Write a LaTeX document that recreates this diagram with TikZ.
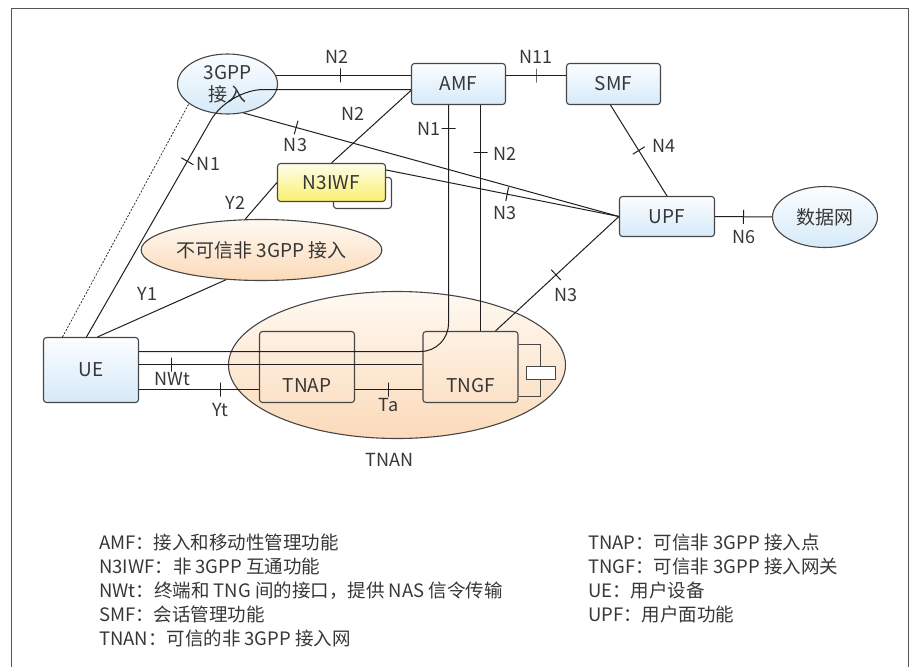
\documentclass[tikz,border=0pt]{standalone}
\usepackage{fontspec}
\setmainfont{Noto Sans CJK SC}
\usetikzlibrary{arrows.meta,positioning,calc,shapes.geometric}
\definecolor{linegray}{RGB}{30,30,30}
\definecolor{boxgray}{RGB}{70,70,70}
\definecolor{framegray}{RGB}{85,85,85}
\definecolor{textgray}{RGB}{55,55,55}
\definecolor{bluetop}{RGB}{251,253,255}
\definecolor{bluebot}{RGB}{214,234,249}
\definecolor{yeltop}{RGB}{255,253,235}
\definecolor{yelbot}{RGB}{250,239,110}
\definecolor{orgtop}{RGB}{255,249,242}
\definecolor{orgbot}{RGB}{251,218,185}

\begin{document}
\begin{tikzpicture}[x=1pt,y=-1pt,line width=1pt,draw=linegray,text=textgray,
  font=\fontsize{18pt}{22pt}\selectfont,
  nf/.style={draw=boxgray,line width=1.1pt,rounded corners=3pt,top color=bluetop,bottom color=bluebot,
    inner sep=0pt,font=\fontsize{19pt}{23pt}\selectfont},
  cloud/.style={ellipse,draw=boxgray,line width=1.1pt,inner sep=0pt,font=\fontsize{19pt}{23pt}\selectfont},
  tnbox/.style={draw=boxgray,line width=1.1pt,rounded corners=3pt,minimum width=95pt,minimum height=71pt,
    inner sep=0pt,text height=50pt,text depth=0pt,font=\fontsize{19pt}{23pt}\selectfont},
  tickmark/.style={draw=linegray,sloped,inner sep=0pt,minimum width=0pt,minimum height=14pt},
  lbl/.style={inner sep=0pt},
  legend/.style={anchor=west,inner sep=0pt,font=\fontsize{18.5pt}{22pt}\selectfont}]
  \useasboundingbox (-0.5,-0.5) rectangle (913.5,666.5);
  \draw[framegray,line width=1.2pt] (11,667) |- (908,8) -- (908,667);

  % access network ellipse below everything
  \node[cloud,top color=orgtop,bottom color=orgbot,minimum width=337pt,minimum height=147pt] (tnan) at (396.5,364.5) {};
  \node[lbl] (tnanl) at (389,459) {TNAN};

  % core functions
  \node[cloud,top color=bluetop,bottom color=bluebot,minimum width=100pt,minimum height=60pt,align=center,
    font=\fontsize{19pt}{22pt}\selectfont] (gpp) at (227,83.5) {3GPP\\接入};
  \node[nf,minimum width=94pt,minimum height=41pt] (amf) at (458,83.5) {AMF};
  \node[nf,minimum width=94pt,minimum height=41pt] (smf) at (613,83.5) {SMF};
  \node[nf,minimum width=95pt,minimum height=40pt] (upf) at (666.5,216) {UPF};
  \node[cloud,top color=bluetop,bottom color=bluebot,minimum width=105pt,minimum height=61pt] (dn) at (824.5,216.5) {数据网};
  \node[draw=boxgray,line width=1.1pt,rounded corners=3pt,fill=white,minimum width=58pt,minimum height=31pt] (n3back) at (362,192.5) {};
  \node[nf,top color=yeltop,bottom color=yelbot,minimum width=108pt,minimum height=38pt] (n3iwf) at (331,182) {N3IWF};
  \node[cloud,top color=orgtop,bottom color=orgbot,minimum width=206pt,minimum height=61pt] (untr) at (261,249.5) {不可信非 3GPP 接入};
  \node[nf,minimum width=95pt,minimum height=65pt] (ue) at (90.5,369.5) {UE};
  \node[tnbox] (tnap) at (306.5,366.5) {TNAP};
  \node[tnbox] (tngf) at (470,366.5) {TNGF};
  \draw[boxgray,line width=1.1pt] ([yshift=22.5pt]tngf.east) -| (540,396) -- (540,396 -| tngf.east);
  \node[draw=boxgray,line width=1.1pt,fill=white,minimum width=29pt,minimum height=13pt,inner sep=0pt] (tngfport) at (540.5,372.5) {};

  % N2 / N11 on top
  \draw (gpp.10) -- node[tickmark,pos=.48] (tN2a) {} (gpp.10 -| amf.west);
  \node[lbl] (lN2a) at (336,56) {N2};
  \draw ([yshift=8.5pt]amf.east) -- node[tickmark] (tN11) {} ([yshift=8.5pt]smf.west);
  \node[lbl] (lN11) at (535,56) {N11};
  \draw (n3iwf.north) -- ([yshift=-6.5pt]amf.west);
  \node[lbl] (lN2b) at (352,113) {N2};

  % N1 from UE over 3GPP access
  \draw[rounded corners=35pt] ([xshift=-4.5pt]ue.north) -- (228,89) -- ([yshift=-5.5pt]amf.west);
  \path ([xshift=-4.5pt]ue.north) -- node[tickmark,pos=.71] (tN1a) {} (228,89);
  \node[lbl] (lN1a) at (208,163) {N1};
  \draw[dash pattern=on 2pt off 1.5pt,line width=0.7pt] ([xshift=-28.5pt]ue.north) -- (gpp.207);
  \draw ([xshift=6.5pt]ue.north) -- (untr.220);
  \node[lbl] (lY1) at (147,293) {Y1};
  \draw (untr.118) -- (n3iwf.west);
  \node[lbl] (lY2) at (235,202) {Y2};

  % N3 towards UPF
  \draw (gpp.299) -- node[tickmark,pos=.14] (tN3a) {} (upf.west);
  \node[lbl] (lN3a) at (295,145) {N3};
  \draw ([yshift=-7pt]n3iwf.north east) -- node[tickmark,pos=.52] (tN3b) {} (upf.west);
  \node[lbl] (lN3b) at (504,213) {N3};
  \draw ([xshift=25pt]tngf.north) -- node[tickmark,pos=.49] (tN3c) {} (upf.west);
  \node[lbl] (lN3c) at (565,295) {N3};
  \draw ([xshift=-3pt]smf.south) -- node[tickmark] (tN4) {} (upf.north);
  \node[lbl] (lN4) at (663,145) {N4};
  \draw (upf.east) -- node[tickmark] (tN6) {} (dn.west);
  \node[lbl] (lN6) at (743,237) {N6};

  % AMF down to the trusted gateway
  \draw[rounded corners=28pt] ([xshift=-10pt]amf.south) |- (ue.east |- 0,351);
  \path ([xshift=-10pt]amf.south) -- node[tickmark,pos=.097] (tN1b) {} ([xshift=-10pt]amf.south |- 0,351);
  \node[lbl] (lN1b) at (428,128) {N1};
  \draw ([xshift=22pt]amf.south) -- node[tickmark,pos=.21] (tN2c) {} ([xshift=10pt]tngf.north);
  \node[lbl] (lN2c) at (504,153) {N2};

  % UE to TNAN
  \draw ([yshift=5.5pt]ue.east) -- node[tickmark,pos=.116] (tNWt) {} ([yshift=5.5pt]ue.east -| tngf.west);
  \node[lbl] (lNWt) at (172,379) {NWt};
  \draw ([yshift=-19.5pt]ue.east) -- node[tickmark,pos=.68] (tYt) {} ([yshift=-19.5pt]ue.east -| tnap.west);
  \node[lbl] (lYt) at (220,410) {Yt};
  \draw ([yshift=-19.5pt]ue.east -| tnap.east) -- node[tickmark,pos=.49] (tTa) {} ([yshift=-19.5pt]ue.east -| tngf.west);
  \node[lbl] (lTa) at (388,405) {Ta};

  % legend
  \node[legend] (leg1) at (98,542) {AMF：接入和移动性管理功能};
  \node[legend] (leg2) at (98,566) {N3IWF：非 3GPP 互通功能};
  \node[legend] (leg3) at (98,590) {NWt：终端和 TNG 间的接口，提供 NAS 信令传输};
  \node[legend] (leg4) at (98,614) {SMF：会话管理功能};
  \node[legend] (leg5) at (98,638) {TNAN：可信的非 3GPP 接入网};
  \node[legend] (leg6) at (587,542) {TNAP：可信非 3GPP 接入点};
  \node[legend] (leg7) at (587,566) {TNGF：可信非 3GPP 接入网关};
  \node[legend] (leg8) at (587,590) {UE：用户设备};
  \node[legend] (leg9) at (587,614) {UPF：用户面功能};
\end{tikzpicture}
\end{document}
